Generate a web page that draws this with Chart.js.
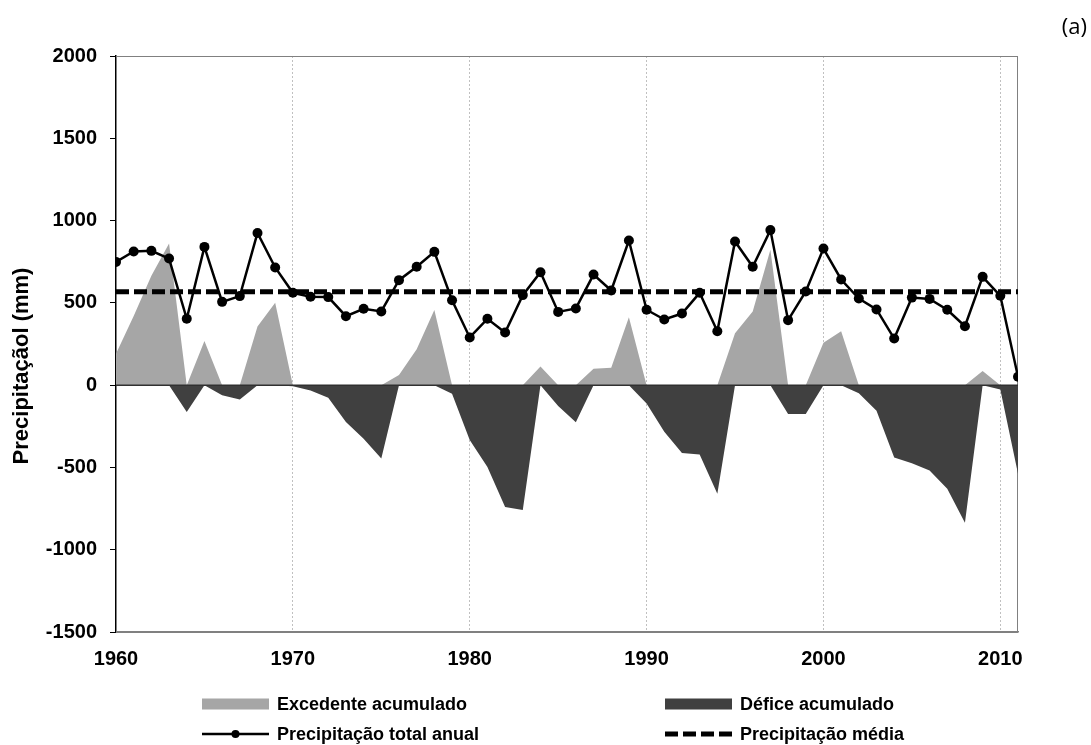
<!DOCTYPE html>
<html>
<head>
<meta charset="utf-8">
<script src="https://cdn.jsdelivr.net/npm/chart.js@4"></script>
<style>
  body { margin: 0; background: #fff; }
  canvas { display: block; }
</style>
</head>
<body>
<canvas id="grafico" width="1091" height="745"></canvas>
<script>
// anos da serie
let anos = [
  1960, 1961, 1962, 1963, 1964, 1965, 1966, 1967, 1968, 1969,
  1970, 1971, 1972, 1973, 1974, 1975, 1976, 1977, 1978, 1979,
  1980, 1981, 1982, 1983, 1984, 1985, 1986, 1987, 1988, 1989,
  1990, 1991, 1992, 1993, 1994, 1995, 1996, 1997, 1998, 1999,
  2000, 2001, 2002, 2003, 2004, 2005, 2006, 2007, 2008, 2009,
  2010, 2011
]

// precipitacao total anual (mm)
let precipitacao = [
  749, 812, 816, 769, 403, 840, 506, 541, 925, 715,
  561, 537, 535, 419, 464, 448, 638, 719, 810, 516,
  290, 403, 320, 547, 686, 445, 466, 672, 575, 879,
  458, 399, 435, 561, 328, 873, 719, 942, 395, 569,
  830, 642, 526, 460, 283, 532, 524, 458, 358, 658,
  543, 51
]

// excedente acumulado (mm)
let excedente = [
  190, 420, 665, 860, 0, 268, 0, 0, 357, 500,
  0, 0, 0, 0, 0, 0, 62, 218, 456, 0,
  0, 0, 0, 0, 113, 0, 0, 100, 105, 412,
  0, 0, 0, 0, 0, 315, 448, 822, 0, 0,
  258, 328, 0, 0, 0, 0, 0, 0, 0, 86,
  0, 0
]

// defice acumulado (mm)
let defice = [
  0, 0, 0, 0, -163, 0, -62, -87, 0, 0,
  -6, -32, -77, -224, -326, -446, 0, 0, 0, -52,
  -334, -498, -740, -758, 0, -127, -225, 0, 0, 0,
  -111, -283, -413, -421, -660, 0, 0, 0, -176, -176,
  0, 0, -50, -155, -440, -474, -518, -630, -836, 0,
  -26, -538
]

let media = 567
let ticksY = [-1500, -1000, -500, 0, 500, 1000, 1500, 2000]
let ticksX = [1960, 1970, 1980, 1990, 2000, 2010]

let fonte = '"Liberation Sans", Arial, sans-serif'

// moldura da area do grafico
let moldura = {
  id: 'moldura',
  beforeDatasetsDraw(chart) {
    let {ctx, chartArea: a} = chart
    ctx.save()
    ctx.strokeStyle = '#808080'
    ctx.lineWidth = 1
    ctx.strokeRect(a.left + 0.5, a.top + 0.5, a.width - 1, a.height)
    ctx.restore()
  },
  afterDatasetsDraw(chart) {
    let {ctx, chartArea: a, scales} = chart
    let y0 = scales.y.getPixelForValue(0)
    ctx.save()
    ctx.strokeStyle = '#303030'
    ctx.lineWidth = 1.5
    ctx.beginPath()
    ctx.moveTo(a.left, y0)
    ctx.lineTo(a.right, y0)
    ctx.stroke()
    ctx.restore()
  }
}

// legenda em duas colunas, titulo do eixo y e o "(a)"
let legenda = {
  id: 'legenda',
  afterDraw(chart) {
    let ctx = chart.ctx
    let ds = chart.data.datasets
    let cols = [202, 665]
    let rows = [704, 734]
    let pos = [[0, 0], [1, 0], [0, 1], [1, 1]]
    ctx.save()
    ds.forEach((d, i) => {
      let x = cols[pos[i][0]]
      let y = rows[pos[i][1]]
      let w = 67
      if (d.fill) {
        ctx.fillStyle = d.backgroundColor
        ctx.fillRect(x, y - 5.5, w, 11)
      } else {
        ctx.strokeStyle = d.borderColor
        ctx.lineWidth = d.borderWidth
        ctx.setLineDash(d.borderDash || [])
        ctx.beginPath()
        ctx.moveTo(x, y)
        ctx.lineTo(x + w, y)
        ctx.stroke()
        ctx.setLineDash([])
        if (d.pointRadius) {
          ctx.fillStyle = d.pointBackgroundColor
          ctx.beginPath()
          ctx.arc(x + w / 2, y, 4, 0, Math.PI * 2)
          ctx.fill()
        }
      }
      ctx.fillStyle = '#000'
      ctx.font = 'bold 18px ' + fonte
      ctx.textBaseline = 'middle'
      ctx.textAlign = 'left'
      ctx.fillText(d.label, x + 75, y + 1)
    })

    ctx.translate(22, 366)
    ctx.rotate(-Math.PI / 2)
    ctx.font = 'bold 22px ' + fonte
    ctx.textAlign = 'center'
    ctx.textBaseline = 'middle'
    ctx.fillText('Precipitaçãol (mm)', 0, 0)
    ctx.setTransform(1, 0, 0, 1, 0, 0)

    ctx.font = '22px "Open Sans", sans-serif'
    ctx.textAlign = 'right'
    ctx.fillText('(a)', 1087, 28)
    ctx.restore()
  }
}

new Chart(document.getElementById('grafico'), {
  type: 'line',
  data: {
    labels: anos,
    datasets: [
      {
        label: 'Excedente acumulado',
        data: excedente,
        fill: 'origin',
        backgroundColor: '#a6a6a6',
        borderWidth: 0,
        pointRadius: 0,
        order: 3
      },
      {
        label: 'Défice acumulado',
        data: defice,
        fill: 'origin',
        backgroundColor: '#404040',
        borderWidth: 0,
        pointRadius: 0,
        order: 2
      },
      {
        label: 'Precipitação total anual',
        data: precipitacao,
        borderColor: '#000',
        borderWidth: 2.5,
        pointRadius: 5,
        pointBackgroundColor: '#000',
        pointBorderWidth: 0,
        order: 0
      },
      {
        label: 'Precipitação média',
        data: [{x: anos[0], y: media}, {x: anos[anos.length - 1], y: media}],
        borderColor: '#000',
        borderWidth: 5,
        borderDash: [13, 5],
        pointRadius: 0,
        order: 1
      }
    ]
  },
  plugins: [moldura, legenda],
  options: {
    responsive: false,
    animation: false,
    layout: { padding: { left: 0, right: 73, top: 56, bottom: 0 } },
    plugins: {
      legend: { display: false },
      tooltip: { enabled: false }
    },
    scales: {
      x: {
        type: 'linear',
        min: 1960,
        max: 2011,
        afterFit: s => { s.height = 113 },
        afterBuildTicks: s => { s.ticks = ticksX.map(v => ({value: v})) },
        ticks: {
          callback: v => v,
          font: { family: fonte, size: 20, weight: 'bold' },
          color: '#000',
          padding: 15,
          maxRotation: 0
        },
        grid: {
          drawTicks: false,
          color: c => (c.tick && c.tick.value > 1960) ? '#c0c0c0' : 'rgba(0,0,0,0)',
          lineWidth: 1
        },
        border: { color: '#808080', width: 1.5, dash: [2, 2] }
      },
      y: {
        min: -1500,
        max: 2000,
        afterFit: s => { s.width = 116 },
        afterBuildTicks: s => { s.ticks = ticksY.map(v => ({value: v})) },
        ticks: {
          callback: v => v,
          font: { family: fonte, size: 20, weight: 'bold' },
          color: '#000',
          padding: 13
        },
        grid: {
          color: 'rgba(0,0,0,0)',
          tickColor: '#000',
          tickLength: 6,
          tickWidth: 1
        },
        border: { color: '#000', width: 1.5 }
      }
    }
  }
})
</script>
</body>
</html>
